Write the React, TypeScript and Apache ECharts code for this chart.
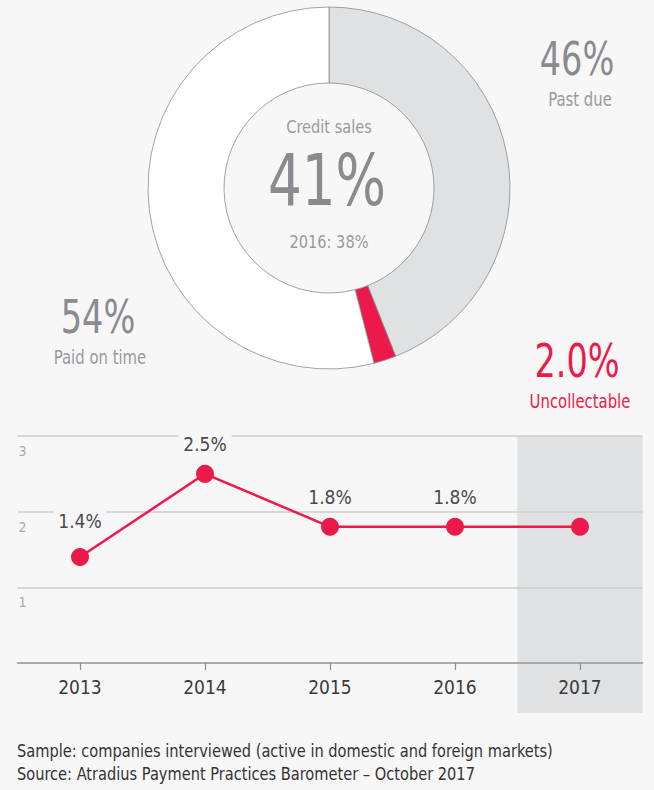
import React, { useEffect, useRef } from "react";
import * as echarts from "echarts";

// ---- data ----
const categories = ["2013", "2014", "2015", "2016", "2017"];
const uncollectableTrend = [1.4, 2.5, 1.8, 1.8, 1.8];
const trendLabels = ["1.4%", "2.5%", "1.8%", "1.8%", ""];
const yTicks = { min: 0, max: 3, interval: 1 };
const highlightYear = "2017";

const donutNames = ["Past due", "Uncollectable", "Paid on time"];
const donutValues = [44, 2, 54];
const pastDueLabel = "46%";
const uncollectableLabel = "2.0%";
const paidLabel = "54%";
const creditSalesTitle = "Credit sales";
const creditSalesValue = "41%";
const creditSalesPrev = "2016: 38%";
const footerLines = [
  "Sample: companies interviewed (active in domestic and foreign markets)",
  "Source: Atradius Payment Practices Barometer \u2013 October 2017",
];

const FONT = '"DejaVu Sans Condensed", "Liberation Sans Narrow", Roboto, sans-serif';
const RED = "#ec1a4b";
const BG = "#f7f7f7";
const BAND = "#e0e1e3";
const GREY_NUM = "#8b8b8f";
const GREY_TXT = "#9a9a9d";

export default function App() {
  const ref = useRef<HTMLDivElement>(null);
  useEffect(() => {
    if (!ref.current) return;
    const chart = echarts.init(ref.current, undefined, { renderer: "svg" });
    const txt = (
      text: string,
      x: number,
      y: number,
      size: number,
      fill: string,
      sx: number,
      align = "center"
    ) => ({
      type: "text",
      x,
      y,
      scaleX: sx,
      z: 100,
      silent: true,
      style: { text, fill, fontSize: size, fontFamily: FONT, align, verticalAlign: "middle" },
    });
    const hi = categories.indexOf(highlightYear);
    chart.setOption({
      animation: false,
      backgroundColor: BG,
      textStyle: { fontFamily: FONT },
      grid: [
        { left: 17.5, right: 11.5, top: 436, height: 227 },
        { left: 17.5, right: 11.5, top: 436, height: 277 },
      ],
      xAxis: [
        {
          type: "category",
          gridIndex: 0,
          data: categories,
          z: 3,
          axisLine: { show: true, lineStyle: { color: "#9c9c9c", width: 1.5 } },
          axisTick: {
            show: true,
            alignWithLabel: true,
            length: 7,
            lineStyle: { color: "#8c8c8c", width: 1.2 },
          },
          axisLabel: { color: "#3a3a3a", fontSize: 19, margin: 14, fontFamily: FONT },
          splitLine: { show: false },
        },
        { type: "value", gridIndex: 1, min: 0, max: categories.length, show: false },
      ],
      yAxis: [
        {
          type: "value",
          gridIndex: 0,
          min: yTicks.min,
          max: yTicks.max,
          interval: yTicks.interval,
          z: 3,
          axisLine: { show: false },
          axisTick: { show: false },
          axisLabel: {
            inside: true,
            margin: 0,
            showMinLabel: false,
            verticalAlign: "top",
            padding: [8, 0, 0, 1],
            color: "#aaa",
            fontSize: 14,
            fontFamily: FONT,
          },
          splitLine: { lineStyle: { color: "#cdcdcd", width: 1.5 } },
        },
        { type: "value", gridIndex: 1, min: 0, max: 1, show: false },
      ],
      graphic: [
        txt(creditSalesTitle, 329, 127, 18, GREY_TXT, 0.9),
        txt(creditSalesValue, 327, 180, 72, GREY_NUM, 0.82),
        txt(creditSalesPrev, 329, 242, 18, GREY_TXT, 0.9),
        txt(pastDueLabel, 577, 59, 46, GREY_NUM, 0.81),
        txt(donutNames[0], 580, 99, 19, GREY_TXT, 0.87),
        txt(paidLabel, 98, 317, 46, GREY_NUM, 0.81),
        txt(donutNames[2], 100, 357, 19, GREY_TXT, 0.87),
        txt(uncollectableLabel, 577, 361, 46, RED, 0.81),
        txt(donutNames[1], 580, 401, 19, RED, 0.87),
        txt(footerLines[0], 17, 751, 17, "#333", 0.955, "left"),
        txt(footerLines[1], 17, 774, 17, "#333", 0.955, "left"),
      ],
      series: [
        {
          type: "pie",
          center: [329, 188],
          radius: [105, 181],
          startAngle: 90,
          clockwise: true,
          silent: true,
          label: { show: false },
          labelLine: { show: false },
          itemStyle: { borderColor: "#8c8c8c", borderWidth: 0.8 },
          data: donutNames.map((name, i) => ({
            name,
            value: donutValues[i],
            itemStyle: { color: [BAND, RED, "#ffffff"][i] },
          })),
        },
        {
          type: "scatter",
          xAxisIndex: 1,
          yAxisIndex: 1,
          z: 1,
          silent: true,
          symbolSize: 0,
          data: [[hi + 0.5, 0.5]],
          markArea: {
            silent: true,
            itemStyle: { color: BAND },
            data: [[{ xAxis: hi }, { xAxis: hi + 1 }]],
          },
        },
        {
          type: "line",
          xAxisIndex: 0,
          yAxisIndex: 0,
          data: uncollectableTrend.map((v, i) => ({
            value: v,
            label: {
              show: trendLabels[i] !== "",
              formatter: trendLabels[i],
              distance: i === 0 ? 17 : 10,
            },
          })),
          symbol: "circle",
          symbolSize: 18,
          lineStyle: { color: RED, width: 2.5 },
          itemStyle: { color: RED },
          z: 5,
          label: {
            position: "top",
            color: "#4a4a4a",
            fontSize: 19,
            fontFamily: FONT,
            backgroundColor: BG,
            padding: [1, 5],
          },
        },
      ],
    });
    return () => chart.dispose();
  }, []);
  return (
    <div
      ref={ref}
      style={{ position: "fixed", left: 0, top: 0, width: 654, height: 790, background: BG }}
    />
  );
}
